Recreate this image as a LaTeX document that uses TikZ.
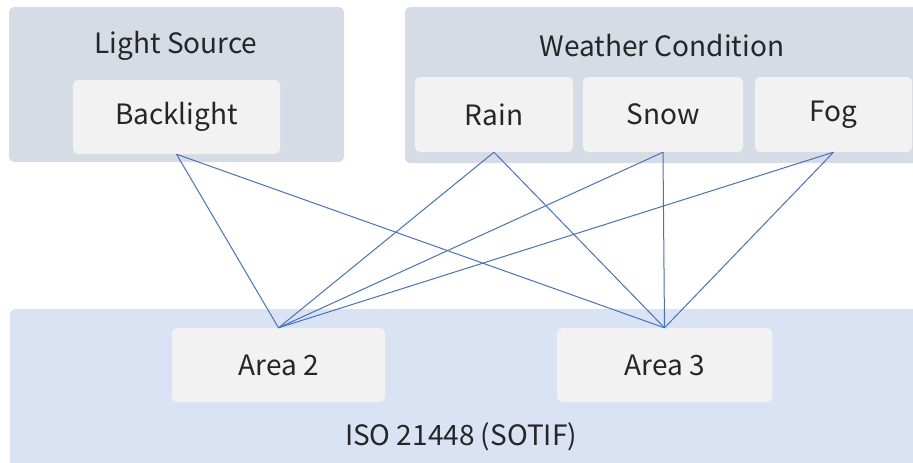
\documentclass[tikz,border=0pt]{standalone}
\usepackage{fontspec}
\newfontfamily\krfont{Noto Sans CJK KR}
\definecolor{panelgray}{RGB}{214,220,229}
\definecolor{panelblue}{RGB}{218,227,243}
\definecolor{boxgray}{RGB}{242,242,242}
\definecolor{linkblue}{RGB}{68,114,196}
\definecolor{txtgray}{RGB}{38,38,38}
\begin{document}
\begin{tikzpicture}[x=1pt,y=-1pt,
  every node/.style={font=\krfont\fontsize{28}{32}\selectfont,text=txtgray},
  item/.style={fill=boxgray,rounded corners=5pt,minimum height=74pt,inner sep=0pt},
  link/.style={draw=linkblue,line width=1pt}]
\useasboundingbox (0,0) rectangle (913,463);
\fill[panelgray,rounded corners=5pt] (9,7) rectangle (344,162);
\fill[panelgray,rounded corners=5pt] (405,7) rectangle (925,163);
\fill[panelblue,rounded corners=5pt] (10,309) rectangle (925,475);
\node (lighttitle) at (176,46) {Light Source};
\node (weathertitle) at (662,46) {Weather Condition};
\node (isotitle) at (461,437) {ISO 21448 (SOTIF)};
\node[item,minimum width=207pt] (backlight) at (176.5,117) {Backlight};
\node[item,minimum width=158pt,minimum height=75pt] (rain) at (494,114.5) {Rain};
\node[item,minimum width=160pt,minimum height=75pt] (snow) at (663,114.5) {Snow};
\node[item,minimum width=157pt,minimum height=75pt] (fog) at (833.5,114.5) {Fog};
\node[item,minimum width=213pt] (area2) at (278.5,365) {Area 2};
\node[item,minimum width=215pt] (area3) at (664.5,365) {Area 3};
\foreach \src in {backlight,rain,snow,fog}{
  \draw[link] (\src.south) -- (area2.north);
  \draw[link] (\src.south) -- (area3.north);
}
\end{tikzpicture}
\end{document}
